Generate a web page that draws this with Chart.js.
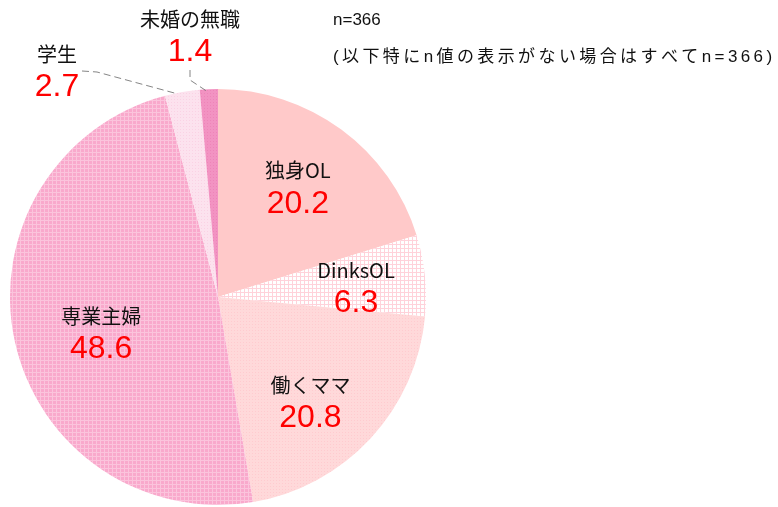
<!DOCTYPE html>
<html>
<head>
<meta charset="utf-8">
<script src="https://cdn.jsdelivr.net/npm/chart.js@4"></script>
<style>
  body { margin: 0; background: #fff; }
  #wrap { position: relative; width: 778px; height: 507px; }
</style>
</head>
<body>
<div id="wrap"><canvas id="pie" width="778" height="507"></canvas></div>
<script>
// データ
const categories = ['独身OL', 'DinksOL', '働くママ', '専業主婦', '学生', '未婚の無職'];
const shares = [20.2, 6.3, 20.8, 48.6, 2.7, 1.4];
const sampleNote = ['n=366', '(以下特にn値の表示がない場合はすべてn=366)'];

// small tile patterns to mimic the hatched fills
function tile(size, base, line, mode) {
    const c = document.createElement('canvas');
    c.width = size; c.height = size;
    const g = c.getContext('2d');
    g.fillStyle = base;
    g.fillRect(0, 0, size, size);
    g.fillStyle = line;
    if (mode === 'grid') {
        g.fillRect(0, 0, size, 1);
        g.fillRect(0, 0, 1, size);
    } else if (mode === 'dot') {
        g.fillRect(0, 0, 1, 1);
    }
    return g.createPattern(c, 'repeat');
}

const fills = [
    '#FFC9C9',
    tile(4, '#FFFFFF', '#FFD2DA', 'grid'),
    tile(3, '#FFD9DA', '#FFCBCF', 'dot'),
    tile(4, '#F9A9CC', '#FBC4DC', 'grid'),
    tile(3, '#FCE2EE', '#FAD2E4', 'dot'),
    tile(3, '#F293C2', '#EE84B8', 'dot')
];

// label placement: fraction of radius + nudge, or outside with a leader line
const labelSpots = [
    { r: 0.55, dx: 12, dy: -34 },
    { r: 0.72, dx: -11, dy: -11 },
    { r: 0.58, dx: 4, dy: 6 },
    { r: 0.57, dx: -1, dy: -6 },
    { out: true, lx: 57, ly: 54, vy: 87, lead: [[82, 71], [97, 72], [178, 94]] },
    { out: true, lx: 190, ly: 19, vy: 52, lead: [[190, 70], [190, 80], [208, 92]] }
];

const labelPlugin = {
    id: 'pieLabels',
    afterDatasetsDraw(chart) {
        const ctx = chart.ctx;
        const arcs = chart.getDatasetMeta(0).data;
        ctx.save();
        ctx.textAlign = 'center';
        ctx.textBaseline = 'middle';
        arcs.forEach((arc, i) => {
            const s = labelSpots[i];
            let x, y, vy;
            if (s.out) {
                x = s.lx; y = s.ly; vy = s.vy;
                ctx.strokeStyle = '#666';
                ctx.lineWidth = 0.8;
                ctx.setLineDash([7, 4]);
                ctx.beginPath();
                s.lead.forEach((p, k) => k ? ctx.lineTo(p[0], p[1]) : ctx.moveTo(p[0], p[1]));
                ctx.stroke();
                ctx.setLineDash([]);
            } else {
                const mid = (arc.startAngle + arc.endAngle) / 2;
                const rr = arc.outerRadius * s.r;
                x = arc.x + Math.cos(mid) * rr + s.dx;
                y = arc.y + Math.sin(mid) * rr + s.dy;
                vy = y + 33;
            }
            ctx.fillStyle = '#111';
            ctx.font = '20px "Noto Sans CJK JP", sans-serif';
            ctx.fillText(categories[i], x, y);
            ctx.fillStyle = '#FF0000';
            ctx.font = '32px "Liberation Sans", Arial, sans-serif';
            ctx.fillText(shares[i].toFixed(1), x, vy);
        });
        // n note
        ctx.textAlign = 'left';
        ctx.fillStyle = '#111';
        ctx.font = '17px "Liberation Sans", "Noto Sans CJK JP", sans-serif';
        ctx.fillText(sampleNote[0], 333, 20);
        ctx.letterSpacing = '3.4px';
        ctx.fillText(sampleNote[1], 333, 57);
        ctx.restore();
    }
};

new Chart(document.getElementById('pie'), {
    type: 'pie',
    data: {
        labels: categories,
        datasets: [{
            data: shares,
            backgroundColor: fills,
            borderWidth: 0
        }]
    },
    options: {
        responsive: false,
        animation: false,
        layout: { padding: { top: 89, bottom: 2, left: 10, right: 352 } },
        plugins: {
            legend: { display: false },
            tooltip: { enabled: false }
        }
    },
    plugins: [labelPlugin]
});
</script>
</body>
</html>
